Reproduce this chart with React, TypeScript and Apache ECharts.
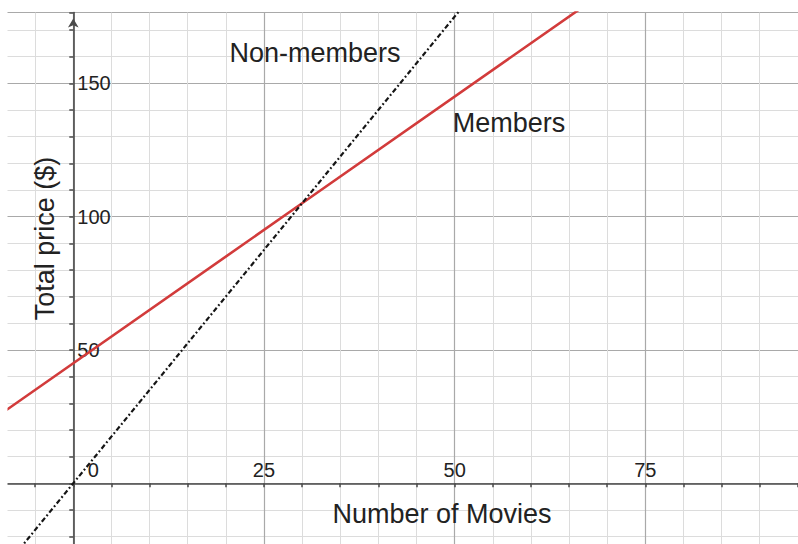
import React, { useEffect, useRef } from "react";
import * as echarts from "echarts";

// Data
const movieCounts = [-10, 0, 30, 70];
const memberPrices = [25, 45, 105, 185];
const nonMemberMovieCounts = [-10, 0, 30, 60];
const nonMemberPrices = [-35, 0, 105, 210];
const xTickLabels = [0, 25, 50, 75];
const yTickLabels = [50, 100, 150];

const FONT = "'Liberation Sans', Arial, Helvetica, sans-serif";

const X_MIN = -25;
const X_MAX = 100;
const Y_MIN = -50;
const Y_MAX = 176.5;

export default function App() {
  const ref = useRef<HTMLDivElement>(null);
  useEffect(() => {
    if (!ref.current) return;
    const chart = echarts.init(ref.current, undefined, { renderer: "svg" });
    const membersData = movieCounts.map((m, i) => [m, memberPrices[i]]);
    const nonMembersData = nonMemberMovieCounts.map((m, i) => [m, nonMemberPrices[i]]);
    const textStyle = { fontFamily: FONT, fontSize: 27, fill: "#222" };
    const axisColor = "#4a4a4a";
    chart.setOption({
      animation: false,
      backgroundColor: "#fff",
      grid: {
        left: -117.4,
        right: -38,
        top: 12.6,
        bottom: -72.6,
        containLabel: false,
        outerBoundsMode: "none",
      },
      xAxis: [
        {
          type: "value",
          min: X_MIN,
          max: X_MAX,
          interval: 25,
          axisLine: { show: true, onZero: true, lineStyle: { color: axisColor, width: 1.6 } },
          axisTick: { show: true, length: 4, lineStyle: { color: axisColor, width: 1.5 } },
          minorTick: { show: true, splitNumber: 5, length: 4, lineStyle: { color: axisColor, width: 1.5 } },
          splitLine: { show: true, lineStyle: { color: "#a9a9a9", width: 1.2 } },
          minorSplitLine: { show: true, lineStyle: { color: "#dcdcdc", width: 1 } },
          axisLabel: { show: false },
        },
        {
          // label-only axis placed on the zero line
          type: "value",
          min: X_MIN,
          max: X_MAX,
          interval: 25,
          position: "bottom",
          offset: -133.3,
          axisLine: { show: false, onZero: false },
          axisTick: { show: false },
          splitLine: { show: false },
          axisLabel: {
            show: true,
            inside: true,
            margin: 3,
            fontSize: 20,
            fontFamily: FONT,
            color: "#222",
            formatter: (v: number) =>
              xTickLabels.includes(v) ? (v === 0 ? "{z|0}" : String(v)) : "",
            rich: { z: { padding: [0, 0, 0, 40], fontSize: 20, fontFamily: FONT, color: "#222" } },
          },
        },
      ],
      yAxis: [
        {
          type: "value",
          min: Y_MIN,
          max: Y_MAX,
          interval: 50,
          axisLine: {
            show: true,
            onZero: true,
            symbol: ["none", "arrow"],
            symbolSize: [8, 9],
            symbolOffset: [0, -6],
            lineStyle: { color: axisColor, width: 1.6 },
          },
          axisTick: { show: true, length: 4, lineStyle: { color: axisColor, width: 1.5 } },
          minorTick: { show: true, splitNumber: 5, length: 4, lineStyle: { color: axisColor, width: 1.5 } },
          splitLine: { show: true, lineStyle: { color: "#a9a9a9", width: 1.2 } },
          minorSplitLine: { show: true, lineStyle: { color: "#dcdcdc", width: 1 } },
          axisLabel: { show: false },
        },
        {
          // label-only axis placed on the zero line
          type: "value",
          min: Y_MIN,
          max: Y_MAX,
          interval: 50,
          position: "left",
          offset: -190.7,
          axisLine: { show: false, onZero: false },
          axisTick: { show: false },
          splitLine: { show: false },
          axisLabel: {
            show: true,
            inside: true,
            margin: 4,
            fontSize: 20,
            fontFamily: FONT,
            color: "#222",
            formatter: (v: number) => (yTickLabels.includes(v) ? String(v) : ""),
          },
        },
      ],
      series: [
        {
          name: "Members",
          type: "line",
          xAxisIndex: 0,
          yAxisIndex: 0,
          data: membersData,
          showSymbol: false,
          symbol: "none",
          clip: true,
          silent: true,
          lineStyle: { color: "#d23b3b", width: 2.6 },
          z: 3,
        },
        {
          name: "Non-members",
          type: "line",
          xAxisIndex: 0,
          yAxisIndex: 0,
          data: nonMembersData,
          showSymbol: false,
          symbol: "none",
          clip: true,
          silent: true,
          lineStyle: { color: "#151515", width: 2.2, type: [5, 2.5, 1.8, 2.5] },
          z: 4,
        },
      ],
      graphic: [
        {
          type: "rect",
          z: 100,
          shape: { x: 0, y: 0, width: 7.5, height: 544 },
          style: { fill: "#fff" },
          silent: true,
        },
        {
          type: "text",
          z: 101,
          x: 315,
          y: 53,
          style: { ...textStyle, text: "Non-members", align: "center", verticalAlign: "middle" },
        },
        {
          type: "text",
          z: 101,
          x: 509,
          y: 123,
          style: { ...textStyle, text: "Members", align: "center", verticalAlign: "middle" },
        },
        {
          type: "text",
          z: 101,
          x: 442,
          y: 514,
          style: { ...textStyle, text: "Number of Movies", align: "center", verticalAlign: "middle" },
        },
        {
          type: "text",
          z: 101,
          x: 45,
          y: 238.5,
          rotation: Math.PI / 2,
          style: { ...textStyle, text: "Total price ($)", align: "center", verticalAlign: "middle" },
        },
      ],
    });
    return () => chart.dispose();
  }, []);
  return (
    <div
      ref={ref}
      style={{ position: "absolute", left: 0, top: 0, width: "798px", height: "544px" }}
    />
  );
}
